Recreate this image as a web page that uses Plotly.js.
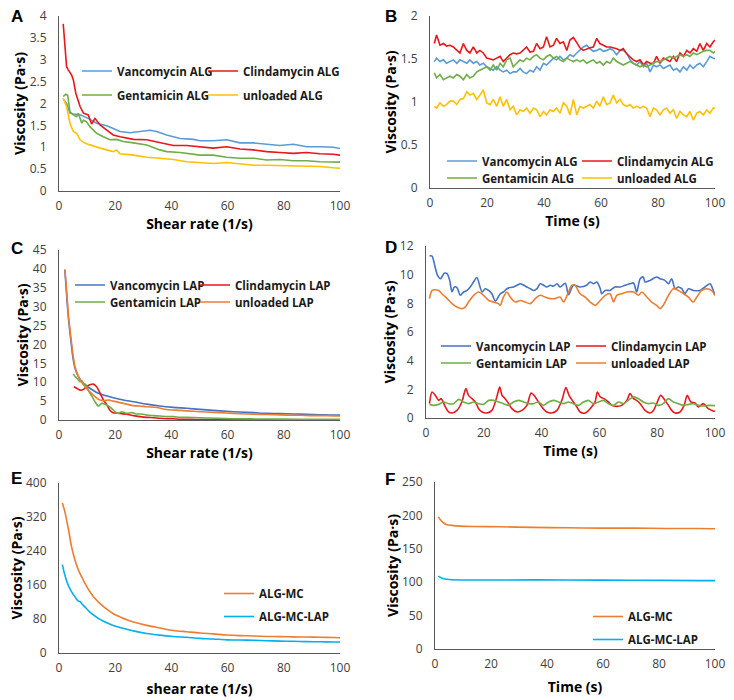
<!DOCTYPE html>
<html>
<head>
<meta charset="utf-8">
<script src="https://cdn.plot.ly/plotly-3.0.1.min.js"></script>
<style>html,body{margin:0;padding:0;background:#fff;} #chart{width:734px;height:700px;}</style>
</head>
<body>
<div id="chart"></div>
<script>
// ---------- Panel A: viscosity vs shear rate (ALG) ----------
const A_vanco_x = [1.5, 2.7, 3.9, 5.1, 7.5, 10.4, 13.4, 17.0, 19.3, 21.7, 25.3, 28.8, 32.4, 34.8, 38.3, 43.1, 47.8, 50.2, 54.9, 59.7, 64.4, 69.2, 73.9, 78.6, 83.4, 88.1, 92.9, 97.6, 100];
const A_vanco_y = [2.1, 2.0, 1.78, 1.76, 1.74, 1.66, 1.55, 1.49, 1.43, 1.36, 1.33, 1.36, 1.39, 1.36, 1.28, 1.2, 1.18, 1.15, 1.15, 1.17, 1.1, 1.1, 1.07, 1.04, 1.07, 1.01, 1.01, 1.0, 0.97];
const A_clinda_x = [1.5, 2.7, 3.3, 4.5, 5.1, 6.0, 7.5, 8.7, 10.4, 11.6, 12.8, 14.6, 17.0, 19.3, 21.7, 26.5, 31.2, 35.9, 40.7, 45.4, 50.2, 54.9, 59.7, 64.4, 69.2, 73.9, 78.6, 83.4, 88.1, 92.9, 97.6, 100];
const A_clinda_y = [3.82, 2.84, 2.77, 2.65, 2.54, 2.23, 1.93, 1.78, 1.74, 1.53, 1.66, 1.51, 1.39, 1.28, 1.24, 1.18, 1.17, 1.1, 1.04, 1.04, 1.01, 0.98, 1.01, 0.96, 0.94, 0.9, 0.88, 0.86, 0.88, 0.85, 0.84, 0.82];
const A_genta_x = [1.5, 2.4, 3.1, 3.9, 5.1, 6.3, 6.9, 8.1, 8.7, 9.8, 11.0, 13.4, 15.8, 18.1, 20.5, 22.9, 26.5, 31.2, 35.9, 38.3, 43.1, 47.8, 50.2, 54.9, 59.7, 64.4, 69.2, 73.9, 78.6, 83.4, 88.1, 92.9, 97.6, 100];
const A_genta_y = [2.16, 2.21, 2.19, 1.81, 1.74, 1.7, 1.78, 1.55, 1.62, 1.58, 1.47, 1.32, 1.24, 1.17, 1.18, 1.13, 1.1, 1.05, 0.94, 0.9, 0.88, 0.85, 0.82, 0.82, 0.77, 0.75, 0.75, 0.71, 0.72, 0.69, 0.69, 0.67, 0.66, 0.66];
const A_unl_x = [1.5, 2.7, 3.9, 5.1, 6.3, 7.5, 9.3, 11.0, 12.8, 14.6, 17.0, 19.3, 20.5, 21.7, 26.5, 31.2, 35.9, 40.7, 45.4, 50.2, 54.9, 59.7, 64.4, 69.2, 73.9, 78.6, 83.4, 88.1, 92.9, 97.6, 100];
const A_unl_y = [2.12, 1.93, 1.55, 1.36, 1.32, 1.17, 1.09, 1.05, 1.01, 0.98, 0.94, 0.9, 0.94, 0.85, 0.82, 0.77, 0.75, 0.72, 0.67, 0.65, 0.63, 0.65, 0.62, 0.59, 0.59, 0.58, 0.57, 0.56, 0.56, 0.53, 0.52];

// ---------- Panel B: viscosity vs time (ALG) ----------
const B_time = [1.5, 2.3, 3.5, 4.7, 5.8, 7.0, 8.2, 9.4, 10.5, 11.7, 12.9, 14.0, 15.2, 16.4, 17.5, 18.7, 19.9, 21.1, 22.2, 23.4, 24.6, 25.7, 26.9, 28.1, 29.2, 30.4, 31.6, 32.7, 33.9, 35.1, 36.3, 37.4, 38.6, 39.8, 40.9, 42.1, 43.3, 44.4, 45.6, 46.8, 48.0, 49.1, 50.3, 51.5, 52.6, 53.8, 55.0, 56.1, 57.3, 58.5, 59.6, 60.8, 62.0, 63.2, 64.3, 65.5, 66.7, 67.8, 69.0, 70.2, 71.3, 72.5, 73.7, 74.9, 76.0, 77.2, 78.4, 79.5, 80.7, 81.9, 83.0, 84.2, 85.4, 86.5, 87.7, 88.9, 90.1, 91.2, 92.4, 93.6, 94.7, 95.9, 97.1, 98.2, 99.4, 100];
const B_vanco = [1.47, 1.51, 1.47, 1.49, 1.45, 1.47, 1.49, 1.45, 1.49, 1.47, 1.45, 1.49, 1.45, 1.47, 1.43, 1.45, 1.41, 1.39, 1.37, 1.41, 1.37, 1.35, 1.37, 1.33, 1.35, 1.35, 1.39, 1.35, 1.33, 1.37, 1.35, 1.41, 1.37, 1.45, 1.43, 1.47, 1.51, 1.49, 1.53, 1.49, 1.51, 1.55, 1.53, 1.57, 1.6, 1.64, 1.66, 1.62, 1.59, 1.6, 1.62, 1.59, 1.6, 1.62, 1.6, 1.55, 1.6, 1.6, 1.57, 1.49, 1.45, 1.43, 1.47, 1.41, 1.45, 1.35, 1.43, 1.41, 1.43, 1.39, 1.41, 1.43, 1.37, 1.39, 1.35, 1.41, 1.37, 1.43, 1.39, 1.43, 1.45, 1.41, 1.47, 1.53, 1.51, 1.5];
const B_clinda = [1.68, 1.78, 1.66, 1.68, 1.65, 1.66, 1.64, 1.6, 1.57, 1.68, 1.6, 1.57, 1.64, 1.57, 1.6, 1.57, 1.51, 1.5, 1.49, 1.51, 1.53, 1.47, 1.51, 1.55, 1.57, 1.56, 1.57, 1.6, 1.64, 1.58, 1.59, 1.68, 1.62, 1.64, 1.76, 1.64, 1.66, 1.74, 1.68, 1.7, 1.6, 1.72, 1.75, 1.69, 1.63, 1.6, 1.62, 1.63, 1.64, 1.74, 1.68, 1.66, 1.64, 1.64, 1.63, 1.62, 1.6, 1.62, 1.56, 1.52, 1.49, 1.47, 1.49, 1.43, 1.47, 1.45, 1.45, 1.53, 1.45, 1.51, 1.49, 1.47, 1.53, 1.47, 1.57, 1.53, 1.6, 1.57, 1.62, 1.59, 1.68, 1.6, 1.68, 1.64, 1.7, 1.72];
const B_genta = [1.34, 1.28, 1.32, 1.26, 1.28, 1.3, 1.28, 1.32, 1.3, 1.26, 1.32, 1.28, 1.3, 1.35, 1.37, 1.39, 1.41, 1.37, 1.43, 1.37, 1.45, 1.41, 1.49, 1.51, 1.41, 1.45, 1.49, 1.47, 1.51, 1.49, 1.53, 1.55, 1.51, 1.49, 1.53, 1.55, 1.51, 1.53, 1.49, 1.47, 1.51, 1.49, 1.47, 1.49, 1.47, 1.49, 1.45, 1.47, 1.49, 1.45, 1.47, 1.43, 1.47, 1.45, 1.51, 1.47, 1.45, 1.43, 1.45, 1.47, 1.45, 1.43, 1.41, 1.43, 1.41, 1.43, 1.45, 1.47, 1.47, 1.49, 1.51, 1.53, 1.51, 1.53, 1.55, 1.53, 1.55, 1.53, 1.57, 1.55, 1.57, 1.59, 1.6, 1.6, 1.57, 1.59];
const B_unl = [0.95, 0.93, 0.99, 0.95, 0.97, 1.01, 1.01, 0.97, 1.03, 1.04, 1.12, 1.08, 1.1, 1.03, 1.08, 1.14, 0.99, 0.97, 1.03, 0.95, 1.06, 0.95, 1.03, 0.91, 0.95, 0.85, 0.91, 0.89, 0.93, 0.87, 0.93, 0.91, 0.83, 0.89, 0.85, 0.91, 0.89, 0.93, 0.87, 0.99, 0.95, 0.85, 1.03, 0.85, 0.95, 0.93, 0.95, 0.97, 0.93, 1.01, 0.95, 1.06, 0.97, 0.99, 1.08, 0.99, 1.03, 0.97, 0.95, 0.97, 0.93, 0.95, 0.93, 0.95, 0.93, 0.83, 0.93, 0.91, 0.85, 0.91, 0.93, 0.87, 0.91, 0.81, 0.89, 0.85, 0.83, 0.89, 0.79, 0.87, 0.89, 0.85, 0.91, 0.87, 0.93, 0.93];

// ---------- Panel C: viscosity vs shear rate (LAP) ----------
const C_vanco_x = [2.1, 3.3, 4.2, 4.9, 5.7, 6.9, 8.7, 11.0, 13.4, 15.8, 19.3, 22.9, 26.5, 31.2, 35.9, 40.7, 45.4, 50.2, 54.9, 59.7, 64.4, 69.2, 73.9, 78.6, 83.4, 88.1, 92.9, 97.6, 100];
const C_vanco_y = [39.7, 27.4, 21.2, 16.8, 13.7, 11.5, 9.7, 8.4, 7.3, 6.6, 5.9, 5.3, 4.85, 4.2, 3.7, 3.35, 3.1, 2.8, 2.55, 2.3, 2.1, 1.95, 1.75, 1.7, 1.6, 1.5, 1.4, 1.3, 1.3];
const C_clinda_x = [5.3, 6.3, 7.5, 8.7, 9.8, 11.0, 12.2, 13.4, 14.6, 15.8, 17.0, 18.1, 19.3, 21.7, 24.1, 26.5, 28.8, 31.2, 33.6, 35.9, 38.3, 40.7, 43.1, 45.4, 50.2, 62.0, 73.9, 85.8, 100];
const C_clinda_y = [8.8, 8.4, 7.9, 8.1, 8.8, 9.3, 9.5, 8.8, 7.1, 5.3, 4.0, 2.6, 1.9, 1.75, 1.5, 1.15, 0.9, 0.7, 0.6, 0.45, 0.35, 0.35, 0.2, 0.2, 0.1, 0.1, 0.05, 0.05, 0.05];
const C_genta_x = [5.1, 5.7, 6.5, 7.5, 8.1, 8.7, 9.6, 10.4, 11.6, 12.8, 14.0, 15.2, 16.4, 17.6, 18.7, 19.9, 21.1, 22.3, 24.1, 25.9, 27.6, 29.4, 31.2, 33.6, 35.9, 38.3, 40.7, 43.1, 45.4, 50.2, 56.1, 62.0, 73.9, 85.8, 100];
const C_genta_y = [12.2, 11.5, 11.0, 10.1, 10.4, 9.7, 9.3, 7.9, 6.4, 4.85, 3.7, 4.4, 4.2, 3.7, 3.1, 2.2, 1.75, 2.2, 1.75, 1.95, 1.6, 1.6, 1.3, 1.15, 1.05, 0.9, 0.9, 0.7, 0.7, 0.6, 0.45, 0.35, 0.25, 0.2, 0.2];
const C_unl_x = [2.1, 2.7, 3.3, 4.2, 4.9, 5.7, 6.9, 8.7, 10.4, 12.2, 14.0, 15.8, 17.6, 19.3, 21.7, 24.1, 26.5, 28.8, 31.2, 34.8, 38.3, 43.1, 47.8, 52.6, 57.3, 62.0, 66.8, 71.5, 76.3, 81.0, 85.8, 90.5, 95.3, 100];
const C_unl_y = [39.9, 34.4, 28.2, 22.1, 17.7, 14.1, 11.5, 9.3, 7.9, 6.6, 5.5, 5.1, 5.3, 5.0, 4.6, 4.2, 3.8, 3.7, 3.5, 3.3, 2.8, 2.55, 2.3, 2.1, 1.95, 1.75, 1.6, 1.5, 1.4, 1.3, 1.25, 1.15, 1.15, 1.05];

// ---------- Panel D: viscosity vs time (LAP) ----------
const D_vanco_x = [1.2, 2.1, 2.6, 3.2, 4.0, 5.0, 5.5, 6.3, 7.3, 8.2, 9.0, 9.8, 10.7, 11.9, 13.0, 14.2, 15.3, 16.5, 17.6, 19.4, 20.5, 21.7, 22.8, 24.0, 25.7, 26.8, 28.0, 29.1, 30.3, 31.5, 32.6, 33.8, 34.9, 36.1, 37.2, 38.4, 39.5, 40.7, 41.8, 43.0, 44.1, 45.3, 46.4, 48.2, 49.3, 51.0, 53.3, 55.6, 56.8, 58.0, 59.1, 60.3, 60.8, 62.0, 63.7, 65.4, 67.2, 68.9, 70.6, 71.8, 72.9, 74.1, 75.2, 75.8, 77.5, 79.8, 81.0, 82.7, 83.9, 85.0, 86.2, 87.3, 88.5, 89.6, 90.8, 92.5, 94.8, 96.5, 98.3, 99.4, 100];
const D_vanco_y = [11.3, 11.3, 11.0, 10.5, 9.95, 9.72, 9.84, 10.1, 10.07, 9.6, 8.8, 9.14, 9.1, 8.56, 8.79, 8.9, 9.14, 9.5, 9.8, 8.79, 9.02, 8.9, 8.67, 8.15, 8.67, 8.79, 9.02, 9.1, 9.14, 9.26, 9.37, 9.26, 9.14, 9.02, 8.9, 9.02, 9.37, 9.26, 9.14, 9.26, 9.19, 9.37, 9.14, 9.4, 8.6, 9.26, 9.14, 9.26, 9.49, 9.37, 9.49, 9.02, 8.67, 8.9, 8.9, 9.14, 9.14, 9.26, 9.37, 9.42, 8.79, 9.72, 9.84, 9.49, 9.6, 9.84, 9.72, 9.6, 9.37, 9.72, 9.02, 9.14, 9.02, 8.67, 9.02, 8.9, 8.9, 9.14, 9.37, 8.9, 8.56];
const D_clinda_x = [1.2, 2.1, 3.2, 4.4, 5.2, 6.7, 7.8, 9.0, 10.7, 12.4, 13.8, 14.7, 15.9, 17.1, 18.2, 19.4, 21.1, 22.8, 24.5, 25.5, 26.3, 27.4, 28.6, 29.7, 31.5, 33.2, 34.9, 36.4, 37.8, 38.9, 40.1, 41.8, 43.5, 45.3, 47.0, 48.4, 49.5, 51.0, 52.2, 53.3, 55.1, 56.8, 58.5, 59.3, 60.3, 61.6, 63.1, 64.3, 66.0, 67.7, 69.5, 70.6, 71.8, 72.9, 74.1, 75.8, 77.5, 78.7, 79.8, 81.2, 82.7, 83.9, 85.0, 86.2, 87.9, 89.3, 90.4, 91.6, 93.1, 94.2, 96.0, 97.7, 99.4, 100];
const D_clinda_y = [1.0, 1.81, 1.58, 1.23, 1.35, 0.77, 0.42, 0.35, 0.53, 1.12, 2.05, 1.58, 1.35, 1.12, 0.65, 0.42, 0.35, 0.53, 1.47, 2.16, 1.58, 1.35, 1.0, 0.65, 0.42, 0.53, 0.88, 1.74, 1.47, 1.12, 0.77, 0.42, 0.35, 0.53, 1.23, 2.12, 1.58, 1.12, 0.77, 0.42, 0.35, 0.65, 1.12, 1.81, 1.47, 1.35, 1.12, 0.88, 0.81, 0.88, 1.23, 1.7, 1.35, 1.23, 1.0, 0.53, 0.35, 0.53, 1.0, 1.58, 1.23, 0.88, 0.53, 0.35, 0.42, 0.88, 1.58, 1.12, 1.05, 0.77, 1.0, 0.65, 0.49, 0.47];
const D_genta_x = [1.2, 2.6, 4.4, 6.1, 7.8, 9.6, 11.3, 13.0, 14.7, 16.5, 18.2, 19.9, 21.7, 23.4, 25.1, 26.8, 28.6, 30.3, 32.0, 33.8, 35.5, 37.2, 38.9, 40.7, 42.4, 44.1, 45.9, 47.6, 49.3, 51.0, 52.8, 54.5, 56.2, 57.9, 59.7, 61.4, 63.1, 64.9, 66.6, 68.3, 70.0, 71.8, 73.5, 75.2, 77.0, 78.7, 80.4, 82.1, 83.9, 85.6, 87.3, 89.1, 90.8, 92.5, 94.2, 96.0, 97.7, 100];
const D_genta_y = [0.95, 0.88, 0.95, 1.12, 1.0, 1.0, 1.3, 1.12, 1.0, 1.12, 1.0, 0.95, 1.23, 1.23, 1.12, 1.0, 0.88, 1.12, 1.23, 1.12, 1.0, 1.0, 1.12, 0.88, 1.12, 1.23, 1.12, 1.0, 1.12, 1.0, 0.88, 1.12, 1.23, 1.0, 1.12, 1.23, 1.0, 0.88, 1.12, 1.0, 1.23, 1.47, 1.35, 1.12, 1.0, 1.05, 0.88, 1.0, 1.35, 1.12, 1.0, 0.88, 0.95, 1.0, 0.88, 0.84, 0.88, 0.86];
const D_unl_x = [1.2, 2.1, 3.2, 4.4, 5.5, 7.3, 9.0, 10.7, 12.4, 13.6, 14.7, 16.5, 18.2, 19.9, 21.7, 23.4, 25.1, 25.7, 26.8, 28.0, 29.1, 30.9, 32.6, 34.3, 36.1, 37.8, 39.5, 41.2, 43.0, 44.7, 46.4, 47.6, 49.3, 50.5, 51.6, 53.3, 55.1, 56.8, 58.5, 60.3, 62.0, 63.7, 64.9, 66.0, 67.7, 69.5, 71.8, 73.5, 74.7, 76.4, 78.1, 79.8, 81.0, 82.1, 83.9, 85.6, 87.3, 89.1, 90.8, 92.5, 93.7, 95.4, 97.1, 98.8, 100];
const D_unl_y = [8.33, 8.9, 8.95, 8.9, 8.67, 8.33, 7.98, 7.74, 7.63, 7.74, 8.09, 8.56, 8.79, 8.56, 8.2, 8.09, 7.98, 7.86, 8.44, 8.79, 8.44, 8.09, 8.2, 8.09, 7.98, 8.33, 8.56, 8.44, 8.33, 8.33, 8.44, 8.09, 8.79, 9.26, 9.26, 8.67, 8.44, 8.09, 7.86, 8.2, 8.56, 8.67, 8.09, 8.56, 8.67, 8.79, 8.79, 8.56, 8.79, 8.44, 8.09, 7.86, 7.63, 7.86, 8.56, 9.02, 8.9, 8.67, 8.44, 8.09, 8.44, 8.9, 9.02, 8.9, 8.56];

// ---------- Panel E: viscosity vs shear rate (ALG-MC) ----------
const E_mc_x = [1.2, 2.1, 3.3, 4.5, 5.7, 6.9, 8.1, 9.3, 11.0, 12.8, 14.6, 17.0, 19.3, 21.7, 24.1, 26.5, 31.2, 35.9, 40.7, 45.4, 50.2, 54.9, 59.7, 64.4, 69.2, 73.9, 78.6, 83.4, 88.1, 92.9, 97.6, 100];
const E_mc_y = [353, 332, 293, 249, 218, 195, 179, 163, 144, 128, 116, 103, 92.5, 85, 78, 73, 65, 59, 53, 50, 47, 45, 42.5, 41, 40, 39, 38.5, 38, 37.5, 37, 36.5, 36];
const E_lap_x = [1.2, 2.1, 3.3, 4.5, 5.7, 6.9, 7.5, 8.1, 9.3, 11.0, 12.8, 14.6, 17.0, 19.3, 21.7, 24.1, 26.5, 31.2, 35.9, 40.7, 45.4, 50.2, 54.9, 59.7, 64.4, 69.2, 73.9, 78.6, 83.4, 88.1, 92.9, 97.6, 100];
const E_lap_y = [208, 183, 159, 144, 132, 122, 121, 116, 108, 96, 87, 79, 71, 65, 60, 56, 52, 46, 42, 39, 37, 34.5, 33, 31, 30.5, 30, 29, 28, 27.5, 26.7, 26.5, 26, 26];

// ---------- Panel F: viscosity vs time (ALG-MC) ----------
const F_mc_x = [1.2, 2.0, 3.0, 4.2, 6.0, 8.9, 13.7, 23.2, 35.1, 47.0, 58.9, 70.8, 82.7, 94.6, 100];
const F_mc_y = [197.8, 193, 189, 186, 185, 184, 183.4, 183, 182, 181.4, 181, 181, 180.4, 180.4, 180];
const F_lap_x = [1.2, 2.4, 4.2, 8.9, 23.2, 47.0, 70.8, 94.6, 100];
const F_lap_y = [109, 106, 104.4, 103.4, 103.4, 103.4, 102.9, 102.4, 102.4];

// ---------- Styling / layout ----------
const W = 734, H = 700;
const fx = v => v / W, fy = v => 1 - v / H;
const COL = {
  vancoALG: '#5B9BD5', clinda: '#E8171B', genta: '#70AD47', unlALG: '#FFC000',
  vancoLAP: '#4472C4', unlLAP: '#ED7D31', mc: '#ED7D31', mclap: '#00B0F0'
};
const FONT = 'Open Sans, Liberation Sans, Arial, sans-serif';

function tr(x, y, name, color, ax, legend, opts) {
  opts = opts || {};
  const t = {x, y, name, type: 'scatter', mode: 'lines',
    line: {color, width: 1.6, shape: opts.shape || 'linear', smoothing: 0.8},
    xaxis: 'x' + ax, yaxis: 'y' + ax, legend, hoverinfo: 'skip'};
  if (opts.lw) t.legendwidth = opts.lw;
  if (opts.group) t.legendgroup = opts.group;
  return t;
}
const S = 'spline';

const data = [
  tr(A_vanco_x, A_vanco_y, 'Vancomycin ALG', COL.vancoALG, '', 'legend'),
  tr(A_clinda_x, A_clinda_y, 'Clindamycin ALG', COL.clinda, '', 'legend', {lw: 110}),
  tr(A_genta_x, A_genta_y, 'Gentamicin ALG', COL.genta, '', 'legend2'),
  tr(A_unl_x, A_unl_y, 'unloaded ALG', COL.unlALG, '', 'legend2', {lw: 110}),

  tr(B_time, B_vanco, 'Vancomycin ALG', COL.vancoALG, '2', 'legend3'),
  tr(B_time, B_clinda, 'Clindamycin ALG', COL.clinda, '2', 'legend3', {lw: 110}),
  tr(B_time, B_genta, 'Gentamicin ALG', COL.genta, '2', 'legend4'),
  tr(B_time, B_unl, 'unloaded ALG', COL.unlALG, '2', 'legend4', {lw: 110}),

  tr(C_vanco_x, C_vanco_y, 'Vancomycin LAP', COL.vancoLAP, '3', 'legend5', {shape: S}),
  tr(C_clinda_x, C_clinda_y, 'Clindamycin LAP', COL.clinda, '3', 'legend5', {shape: S, lw: 110}),
  tr(C_genta_x, C_genta_y, 'Gentamicin LAP', COL.genta, '3', 'legend6', {shape: S}),
  tr(C_unl_x, C_unl_y, 'unloaded LAP', COL.unlLAP, '3', 'legend6', {shape: S, lw: 110}),

  tr(D_vanco_x, D_vanco_y, 'Vancomycin LAP', COL.vancoLAP, '4', 'legend7', {shape: S}),
  tr(D_clinda_x, D_clinda_y, 'Clindamycin LAP', COL.clinda, '4', 'legend7', {shape: S, lw: 110}),
  tr(D_genta_x, D_genta_y, 'Gentamicin LAP', COL.genta, '4', 'legend8', {shape: S}),
  tr(D_unl_x, D_unl_y, 'unloaded LAP', COL.unlLAP, '4', 'legend8', {shape: S, lw: 110}),

  tr(E_mc_x, E_mc_y, 'ALG-MC', COL.mc, '5', 'legend9', {shape: S, group: 'e1'}),
  tr(E_lap_x, E_lap_y, 'ALG-MC-LAP', COL.mclap, '5', 'legend9', {shape: S, group: 'e2'}),

  tr(F_mc_x, F_mc_y, 'ALG-MC', COL.mc, '6', 'legend10', {shape: S, group: 'f1'}),
  tr(F_lap_x, F_lap_y, 'ALG-MC-LAP', COL.mclap, '6', 'legend10', {shape: S, group: 'f2'})
];

function xa(l, r, anchor, title, standoff) {
  return {domain: [fx(l), fx(r)], range: [0, 100], dtick: 20, tick0: 0, anchor,
    showline: true, linecolor: '#595959', linewidth: 1, showgrid: false, zeroline: false,
    ticks: '', ticklabelstandoff: 4, automargin: false, fixedrange: true,
    tickfont: {family: FONT, size: 12, color: '#404040'},
    title: {text: title, standoff, font: {family: FONT, size: 14, color: '#000', weight: 'bold'}}};
}
function ya(t, b, anchor, range, dtick, standoff) {
  return {domain: [fy(b), fy(t)], range, dtick, tick0: 0, anchor,
    showline: true, linecolor: '#595959', linewidth: 1, showgrid: false, zeroline: false,
    ticks: '', ticklabelstandoff: 9, automargin: false, fixedrange: true,
    tickfont: {family: FONT, size: 12, color: '#404040'},
    title: {text: 'Viscosity (Pa·s)', standoff, font: {family: FONT, size: 14, color: '#000', weight: 'bold'}}};
}
function lg(x, y, entry, orient) {
  const o = {x: fx(x), y: fy(y), xanchor: 'left', yanchor: 'middle', orientation: orient || 'h',
    itemwidth: 30, bgcolor: 'rgba(0,0,0,0)',
    borderwidth: 0, tracegroupgap: 0, traceorder: 'normal', itemclick: false, itemdoubleclick: false,
    font: {family: FONT, size: 11.5, color: '#1a1a1a', weight: 'bold'}};
  if (orient === 'v') { o.traceorder = 'grouped'; o.tracegroupgap = 4; }
  else { o.entrywidth = entry; o.entrywidthmode = 'pixels'; }
  return o;
}
function letter(t, x, y) {
  return {text: t, xref: 'paper', yref: 'paper', x: fx(x), y: fy(y), xanchor: 'left', yanchor: 'middle',
    showarrow: false, font: {family: 'Liberation Sans, Arial, sans-serif', size: 17, color: '#000', weight: 'bold'}};
}

const layout = {
  width: W, height: H, margin: {l: 0, r: 0, t: 0, b: 0},
  paper_bgcolor: '#fff', plot_bgcolor: 'rgba(0,0,0,0)', showlegend: true,
  xaxis:  xa(59, 340, 'y', 'Shear rate (1/s)', 1),
  yaxis:  ya(16, 191, 'x', [0, 4], 0.5, 0),
  xaxis2: xa(430, 715, 'y2', 'Time (s)', 5),
  yaxis2: ya(16, 188, 'x2', [0, 2], 0.5, 0),
  xaxis3: xa(59, 340, 'y3', 'Shear rate (1/s)', 1),
  yaxis3: ya(250, 420, 'x3', [0, 45], 5, 0),
  xaxis4: xa(426, 715, 'y4', 'Time (s)', 5),
  yaxis4: ya(246, 418, 'x4', [0, 12], 2, 0),
  xaxis5: xa(59, 340, 'y5', 'shear rate (1/s)', 8),
  yaxis5: ya(483, 653, 'x5', [0, 400], 80, 0),
  xaxis6: xa(435, 715, 'y6', 'Time (s)', 10),
  yaxis6: ya(482, 649, 'x6', [0, 250], 50, 0),
  legend:   lg(77, 71, 81),
  legend2:  lg(77, 95, 81),
  legend3:  lg(442, 161, 90),
  legend4:  lg(442, 178, 90),
  legend5:  lg(70, 285, 80),
  legend6:  lg(70, 302, 80),
  legend7:  lg(436, 346, 90),
  legend8:  lg(436, 363, 90),
  legend9:  lg(219, 605, 0, 'v'),
  legend10: lg(588, 628, 0, 'v'),
  annotations: [
    letter('A', 9, 16), letter('B', 383, 16), letter('C', 9, 248),
    letter('D', 383, 247), letter('E', 9, 478), letter('F', 383, 479)
  ]
};

Plotly.newPlot('chart', data, layout, {displayModeBar: false, staticPlot: true});
</script>
</body>
</html>
